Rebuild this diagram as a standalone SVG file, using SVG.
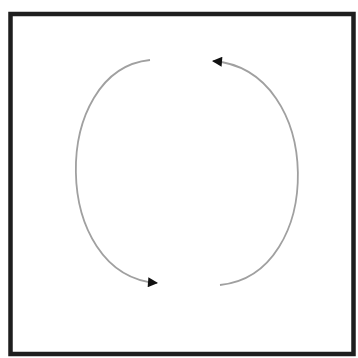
<svg xmlns="http://www.w3.org/2000/svg" width="358" height="358" viewBox="0 0 358 358">
<style>
.frame{fill:#fff;stroke:#1e1e1e;stroke-width:4.5}
.arc{fill:none;stroke:#a0a0a0;stroke-width:1.8}
</style>
<defs>
<marker id="ah" viewBox="0 0 10 10" refX="9" refY="5" markerWidth="13" markerHeight="10" markerUnits="userSpaceOnUse" orient="auto">
<path d="M0,0 L10,5 L0,10 z" fill="#111"/>
</marker>
</defs>
<rect width="358" height="358" fill="#fff"/>
<rect id="frame" class="frame" x="10.5" y="14" width="343" height="340"/>
<g id="connectors">
<path class="arc" d="M150,60 C50,70 50,275 157,283" marker-end="url(#ah)"/>
<path class="arc" d="M220,285 C325,275 325,70 213,61" marker-end="url(#ah)"/>
</g>
</svg>
